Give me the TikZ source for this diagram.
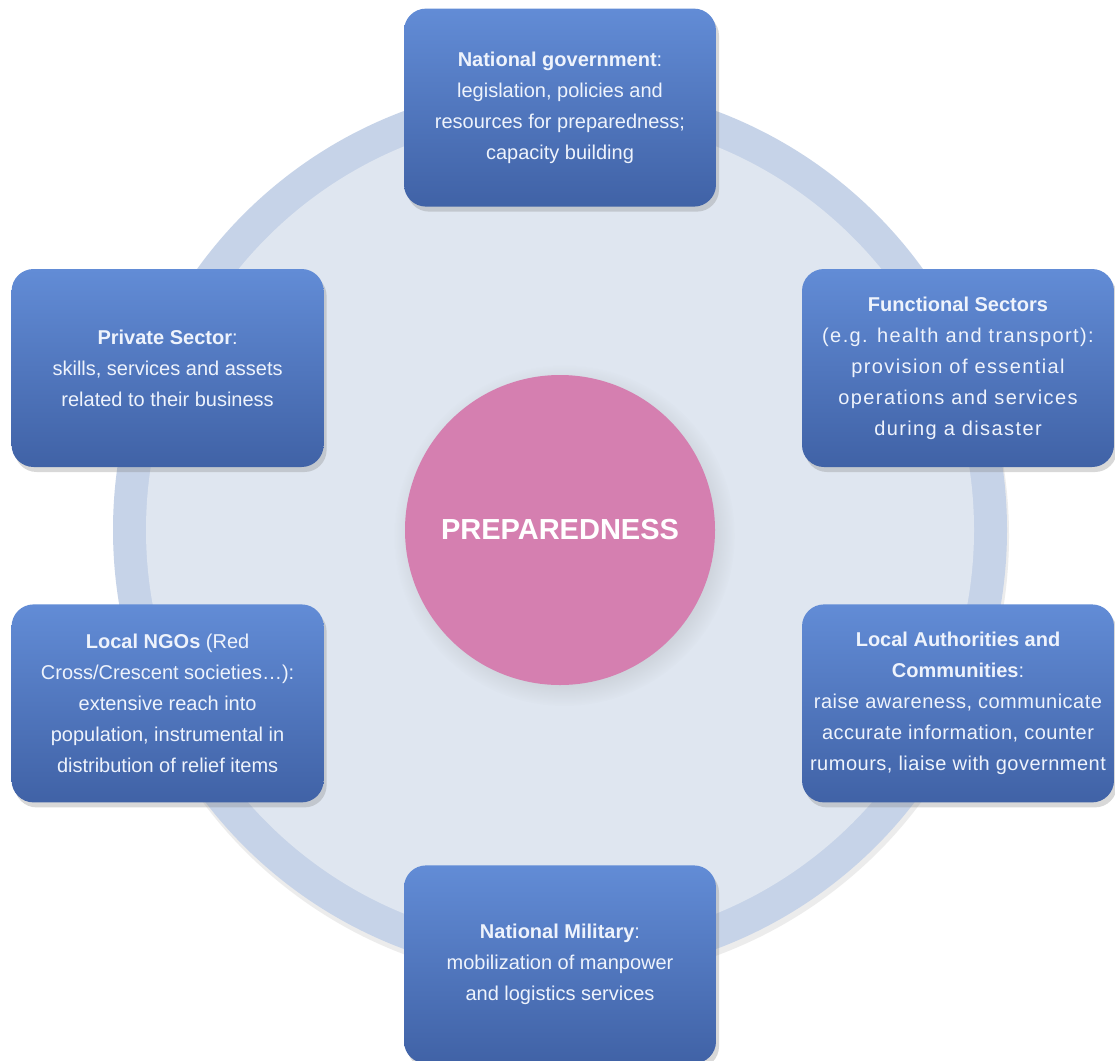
\documentclass[tikz,border=0pt]{standalone}
\usepackage{fontspec}
\setmainfont{Liberation Sans}
\newfontfamily\wideface[LetterSpace=7]{Liberation Sans}
\newfontfamily\midface[LetterSpace=2.5]{Liberation Sans}
\usepackage{tikz}
\usetikzlibrary{shadows, positioning}
\definecolor{boxtop}{RGB}{98,140,214}
\definecolor{boxbottom}{RGB}{64,98,166}
\definecolor{ringblue}{RGB}{198,211,232}
\definecolor{innerblue}{RGB}{223,230,240}
\definecolor{hubpink}{RGB}{213,127,176}
\definecolor{paletext}{RGB}{238,243,252}

\begin{document}
\begin{tikzpicture}
            [x=1pt, y=-1pt, node distance=137pt,
            sector/.style={rectangle, rounded corners=22pt, align=center,
                minimum width=312pt, minimum height=198pt, inner xsep=2pt,
                top color=boxtop, bottom color=boxbottom, text=paletext,
                font=\fontsize{20}{31}\selectfont,
                drop shadow={shadow xshift=3pt, shadow yshift=-5pt, opacity=0.3}},
            hub/.style={circle, minimum size=310pt, fill=hubpink, text=white,
                font=\fontsize{29}{34}\selectfont\bfseries,
                circular drop shadow={shadow xshift=4pt, shadow yshift=-5pt, opacity=0.2}}]

            \useasboundingbox (0,0) rectangle (1115,1060);
            \fill[white] (0,0) rectangle (1115,1060);

            \coordinate (ctr) at (560,530);
            \fill[ringblue, drop shadow={shadow xshift=2pt, shadow yshift=-6pt, opacity=0.15}] (ctr) circle (447pt);
            \fill[innerblue] (ctr) circle (414pt);

            \node[hub] (prep) at (ctr) {\raisebox{-10pt}{PREPAREDNESS}};

            \node[sector] (natgov) [above = 168pt of prep]
                {\textbf{National government}:\\ legislation, policies and\\ resources for preparedness;\\ capacity building};
            \node[sector] (military) [below = 180pt of prep]
                {\textbf{National Military}:\\ mobilization of manpower\\ and logistics services};
            \node[sector] (funcsec) at (958,368)
                {\textbf{Functional Sectors}\\ \wideface (e.g. health and transport):\\ \wideface provision of essential\\ \wideface operations and services\\ \wideface during a disaster};
            \node[sector] (locauth) [below = of funcsec]
                {\textbf{Local Authorities and}\\ \textbf{Communities}:\\ \midface raise awareness, communicate\\ \midface accurate information, counter\\ \midface rumours, liaise with government};
            \node[sector] (ngos) [left = 478pt of locauth]
                {\textbf{Local NGOs} (Red\\ Cross/Crescent societies\dots):\\ extensive reach into\\ population, instrumental in\\ distribution of relief items};
            \node[sector] (private) [above = of ngos]
                {\textbf{Private Sector}:\\ skills, services and assets\\ related to their business};

          \end{tikzpicture}
\end{document}
